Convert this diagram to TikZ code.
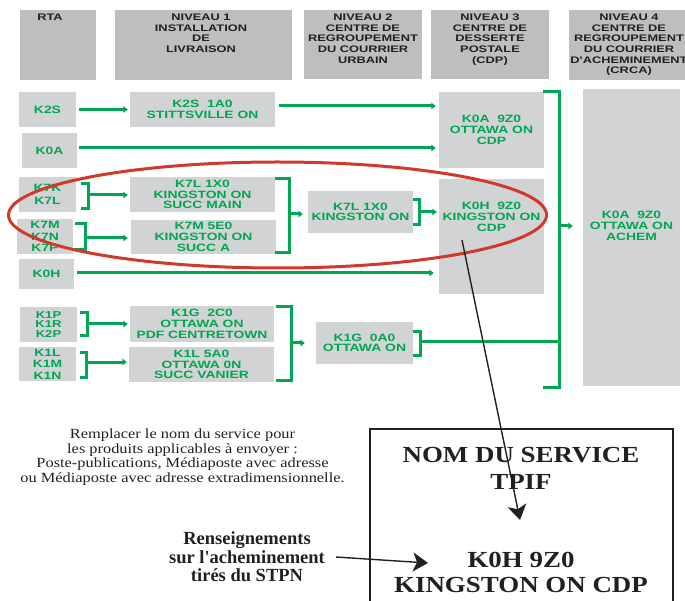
\documentclass[tikz,border=0pt]{standalone}
\usepackage{fontspec}
\setmainfont{Liberation Serif}
\newfontfamily\gsans{Liberation Sans}[FakeStretch=1.31]
\newfontfamily\hsans{Liberation Sans}[FakeStretch=1.35]
\newfontfamily\tser{Liberation Serif}[FakeStretch=1.17]
\newfontfamily\tserb{Liberation Serif}
\newfontfamily\tserw{Liberation Serif}[FakeStretch=1.17]
\usetikzlibrary{arrows.meta}
\definecolor{tgreen}{HTML}{00A651}
\definecolor{boxgray}{HTML}{D1D3D4}
\definecolor{hgray}{HTML}{BCBEC0}
\definecolor{ink}{HTML}{231F20}
\definecolor{ered}{HTML}{D0392B}
\newcommand{\gbrack}[4]{\draw[gline] (#1,#3) -- (#2,#3) -- (#2,#4) -- (#1,#4);}
\begin{document}
\begin{tikzpicture}[x=1pt,y=-1pt,
  hbox/.style={fill=hgray, inner sep=0, draw=none},
  htext/.style={text=ink, font=\hsans\bfseries\fontsize{9.5}{10.7}\selectfont, align=center, inner sep=0, anchor=north},
  gbox/.style={fill=boxgray, inner sep=0, text=tgreen, font=\gsans\bfseries\fontsize{10.6}{10.7}\selectfont, align=center},
  gtext/.style={text=tgreen, font=\gsans\bfseries\fontsize{10.6}{10.7}\selectfont, align=center, inner sep=0},
  gline/.style={draw=tgreen, line width=3pt, line join=miter},
  garrow/.style={gline, -{Triangle[length=4.5pt,width=6.5pt]}},
  barrow/.style={draw=ink, line width=1.4pt, -{Stealth[length=15pt,width=19pt,inset=4pt]}},
  nomtext/.style={text=ink, font=\tserw\bfseries\fontsize{23}{23}\selectfont, inner sep=0},
]
\useasboundingbox (0,0) rectangle (685,601);

% headers
\node[hbox, minimum width=76, minimum height=70] (hrta) at (58,45) {};
\node[hbox, minimum width=177, minimum height=70] (hn1) at (203.5,45) {};
\node[hbox, minimum width=118, minimum height=69] (hn2) at (363,44.5) {};
\node[hbox, minimum width=118, minimum height=69] (hn3) at (490,44.5) {};
\node[hbox, minimum width=121, minimum height=70] (hn4) at (629.5,45) {};
\node[htext] (trta) at (50,13.6) {RTA};
\node[htext] (tn1) at (201,13.6) {NIVEAU 1\\INSTALLATION\\DE\\LIVRAISON};
\node[htext] (tn2) at (363,13.6) {NIVEAU 2\\CENTRE DE\\REGROUPEMENT\\DU COURRIER\\URBAIN};
\node[htext] (tn3) at (490,13.6) {NIVEAU 3\\CENTRE DE\\DESSERTE\\POSTALE\\(CDP)};
\node[htext] (tn4) at (629,13.6) {NIVEAU 4\\CENTRE DE\\REGROUPEMENT\\DU COURRIER\\D'ACHEMINEMENT\\(CRCA)};

% RTA boxes
\node[gbox, minimum width=57, minimum height=35] (rk2s) at (47.5,109.5) {K2S};
\node[gbox, minimum width=55, minimum height=35] (rk0a) at (49.5,150.5) {K0A};
\node[gbox, minimum width=57, minimum height=35, font=\gsans\bfseries\fontsize{10.6}{13.5}\selectfont] (rk7k) at (47.5,194.5) {K7K\\K7L};
\node[gbox, minimum width=56, minimum height=35, font=\gsans\bfseries\fontsize{10.6}{11.5}\selectfont] (rk7m) at (45,236.5) {K7M\\K7N\\K7P};
\node[gbox, minimum width=55, minimum height=30] (rk0h) at (46.5,274) {K0H};
\node[gbox, minimum width=57, minimum height=35, font=\gsans\bfseries\fontsize{10}{9.6}\selectfont] (rk1p) at (48.5,324.5) {K1P\\K1R\\K2P};
\node[gbox, minimum width=57, minimum height=34, font=\gsans\bfseries\fontsize{10.6}{11.5}\selectfont] (rk1l) at (47.5,364) {K1L\\K1M\\K1N};

% level 1
\node[gbox, minimum width=145, minimum height=35] (l1a) at (202.5,109.5) {K2S\ \ 1A0\\STITTSVILLE ON};
\node[gbox, minimum width=145, minimum height=35] (l1b) at (202.5,194.5) {K7L 1X0\\KINGSTON ON\\SUCC MAIN};
\node[gbox, minimum width=145, minimum height=34] (l1c) at (203.5,237) {K7M 5E0\\KINGSTON ON\\SUCC A};
\node[gbox, minimum width=144, minimum height=36] (l1d) at (202,324) {K1G\ \ 2C0\\OTTAWA ON\\PDF CENTRETOWN};
\node[gbox, minimum width=145, minimum height=35] (l1e) at (201.5,364.5) {K1L 5A0\\OTTAWA 0N\\SUCC VANIER};
% level 2
\node[gbox, minimum width=105, minimum height=42] (l2a) at (360.5,212) {K7L 1X0\\KINGSTON ON};
\node[gbox, minimum width=97, minimum height=42] (l2b) at (364.5,343) {K1G\ \ 0A0\\OTTAWA ON};
% level 3
\node[gbox, minimum width=105, minimum height=76] (l3a) at (491.5,130) {K0A\ \ 9Z0\\OTTAWA ON\\CDP};
\node[gbox, minimum width=105, minimum height=115] (l3b) at (491.5,236.5) {};
\node[gtext] (t3b) at (491.5,217) {K0H\ \ 9Z0\\KINGSTON ON\\CDP};
% level 4
\node[gbox, minimum width=97, minimum height=297] (l4) at (631.5,237.5) {};
\node[gtext] (t4) at (631.5,226) {K0A\ \ 9Z0\\OTTAWA ON\\ACHEM};

% direct connectors
\coordinate (s1) at ([xshift=4pt,yshift=3.5pt]l1a.east);
\draw[garrow] (s1) -- ([xshift=-3pt]s1 -| l3a.west);
\draw[garrow] ([xshift=3pt]rk2s.east) -- ([xshift=-2pt]l1a.west);
\coordinate (s2) at ([xshift=2pt,yshift=2.5pt]rk0a.east);
\draw[garrow] (s2) -- ([xshift=-3pt]s2 -| l3a.west);
\coordinate (s3) at ([xshift=3pt,yshift=1pt]rk0h.east);
\draw[garrow] (s3) -- ([xshift=-5pt]s3 -| l3b.west);

% brackets
\gbrack{81}{88.5}{183.5}{208.5}
\coordinate (m1) at (88.5,195);
\draw[garrow] (m1) -- ([xshift=-2pt]m1 -| l1b.west);
\gbrack{75}{85.5}{223.5}{249.5}
\coordinate (m2) at (85.5,238);
\draw[garrow] (m2) -- ([xshift=-3pt]m2 -| l1c.west);
\gbrack{275}{289.5}{178.5}{252.5}
\coordinate (m3) at (289.5,214);
\draw[garrow] (m3) -- ([xshift=-5pt]m3 -| l2a.west);
\gbrack{413}{419.5}{199.5}{224.5}
\coordinate (m4) at (419.5,212);
\draw[garrow] (m4) -- ([xshift=-2pt]m4 -| l3b.west);
\gbrack{80}{87.5}{312.5}{335.5}
\coordinate (m5) at (87.5,324);
\draw[garrow] (m5) -- ([xshift=-2pt]m5 -| l1d.west);
\gbrack{80}{86.5}{352.5}{377.5}
\coordinate (m6) at (86.5,362);
\draw[garrow] (m6) -- ([xshift=-2pt]m6 -| l1e.west);
\gbrack{276}{291.5}{306.5}{380.5}
\coordinate (m7) at (291.5,343);
\draw[garrow] (m7) -- ([xshift=-11pt]m7 -| l2b.west);
\gbrack{413}{420.5}{331.5}{355.5}
\gbrack{543}{559.5}{91.5}{387.5}
\coordinate (m8) at (420.5,342);
\coordinate (m8e) at (559.5,342);
\draw[gline] (m8) -- (m8e);
\coordinate (m9) at (559.5,226);
\draw[garrow] (m9) -- ([xshift=-10pt]m9 -| l4.west);

% red ellipse
\draw[ered, line width=3pt] (277.5,215) ellipse [x radius=269pt, y radius=53pt];

% notes
\node[text=ink, font=\tser\fontsize{14}{14.5}\selectfont, align=center, inner sep=0] (note1) at (182.5,457) {Remplacer le nom du service pour\\les produits applicables à envoyer :\\Poste-publications, Médiaposte avec adresse\\ou Médiaposte avec adresse extradimensionnelle.};
\node[text=ink, font=\tserb\bfseries\fontsize{18.5}{18.5}\selectfont, align=center, inner sep=0] (note2) at (247,557) {Renseignements\\sur l'acheminement\\tirés du STPN};

% NOM box
\node[draw=ink, line width=2pt, minimum width=303, minimum height=200, inner sep=0] (nom) at (521.5,529) {};
\node[nomtext] (n1) at (521,455) {NOM DU SERVICE};
\node[nomtext] (n2) at (521,482) {TPIF};
\node[nomtext] (n3) at (521,560) {K0H 9Z0};
\node[nomtext] (n4) at (521,585) {KINGSTON ON CDP};

% black arrows
\coordinate (a1s) at (462,240);
\coordinate (a1e) at (520,520);
\draw[barrow] (a1s) -- (a1e);
\coordinate (a2s) at (336,557);
\coordinate (a2e) at (428,563);
\draw[barrow] (a2s) -- (a2e);
\end{tikzpicture}
\end{document}
